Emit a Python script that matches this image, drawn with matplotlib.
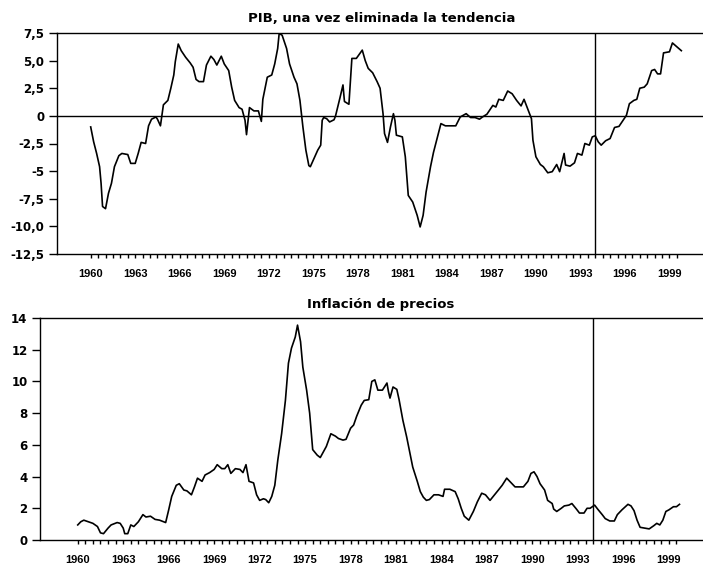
import matplotlib
matplotlib.use("Agg")
import matplotlib.pyplot as plt
from matplotlib.ticker import FixedLocator, FixedFormatter

# Detrended GDP
gdp_years = [1960.0, 1960.2, 1960.4, 1960.6, 1960.7, 1960.8, 1961.0, 1961.2, 1961.4, 1961.6,
             1961.9, 1962.1, 1962.5, 1962.7, 1963.0, 1963.2, 1963.4, 1963.7, 1963.9, 1964.1,
             1964.4, 1964.5, 1964.7, 1964.9, 1965.2, 1965.4, 1965.6, 1965.7, 1965.9, 1966.1,
             1966.4, 1966.7, 1966.9, 1967.1, 1967.3, 1967.6, 1967.8, 1968.1, 1968.3, 1968.5,
             1968.8, 1969.0, 1969.3, 1969.5, 1969.7, 1970.0, 1970.2, 1970.4, 1970.5, 1970.7,
             1971.0, 1971.3, 1971.5, 1971.6, 1971.9, 1972.2, 1972.4, 1972.6, 1972.7, 1972.9,
             1973.2, 1973.4, 1973.7, 1973.9, 1974.1, 1974.3, 1974.5, 1974.7, 1974.8, 1975.1,
             1975.3, 1975.5, 1975.6, 1975.7, 1975.9, 1976.1, 1976.4, 1976.5, 1976.8, 1977.0,
             1977.1, 1977.4, 1977.5, 1977.6, 1977.9, 1978.3, 1978.5, 1978.7, 1979.0, 1979.3,
             1979.5, 1979.7, 1979.8, 1980.0, 1980.2, 1980.4, 1980.5, 1980.6, 1981.0, 1981.2,
             1981.4, 1981.7, 1982.0, 1982.2, 1982.4, 1982.6, 1982.9, 1983.1, 1983.4, 1983.6,
             1983.9, 1984.2, 1984.6, 1984.9, 1985.3, 1985.6, 1985.9, 1986.2, 1986.4, 1986.7,
             1986.9, 1987.1, 1987.3, 1987.5, 1987.8, 1988.1, 1988.4, 1988.7, 1989.0, 1989.2,
             1989.4, 1989.7, 1989.8, 1990.0, 1990.3, 1990.5, 1990.8, 1991.1, 1991.4, 1991.6,
             1991.9, 1992.0, 1992.3, 1992.6, 1992.8, 1993.1, 1993.3, 1993.6, 1993.8, 1994.0,
             1994.2, 1994.4, 1994.7, 1995.0, 1995.3, 1995.6, 1995.9, 1996.1, 1996.3, 1996.6,
             1996.8, 1997.0, 1997.3, 1997.5, 1997.8, 1998.0, 1998.2, 1998.4, 1998.6, 1999.0,
             1999.2, 1999.5, 1999.8]
gdp_values = [-1.0, -2.35, -3.4, -4.6, -6.1, -8.2, -8.4, -7.0, -6.1, -4.6,
              -3.6, -3.4, -3.5, -4.3, -4.3, -3.4, -2.4, -2.5, -0.9, -0.3,
              -0.1, -0.3, -0.9, 1.0, 1.4, 2.5, 3.7, 4.9, 6.5, 5.9,
              5.3, 4.8, 4.4, 3.3, 3.1, 3.1, 4.6, 5.4, 5.1, 4.6,
              5.4, 4.7, 4.1, 2.6, 1.4, 0.75, 0.6, -0.4, -1.7, 0.75,
              0.45, 0.45, -0.5, 1.5, 3.5, 3.7, 4.7, 6.1, 7.45, 7.3,
              6.1, 4.7, 3.5, 2.9, 1.4, -1.0, -3.1, -4.5, -4.6, -3.7,
              -3.1, -2.65, -0.4, -0.15, -0.25, -0.55, -0.35, 0.0, 1.65, 2.8,
              1.3, 1.05, 3.2, 5.2, 5.2, 5.95, 5.0, 4.3, 3.9, 3.1,
              2.5, 0.2, -1.6, -2.4, -1.0, 0.2, -0.4, -1.75, -1.9, -3.7,
              -7.2, -7.8, -9.0, -10.05, -9.0, -6.9, -4.6, -3.3, -1.75, -0.7,
              -0.9, -0.9, -0.9, -0.1, 0.2, -0.15, -0.15, -0.3, -0.1, 0.15,
              0.55, 0.95, 0.8, 1.5, 1.4, 2.25, 2.0, 1.4, 0.9, 1.5,
              0.8, -0.25, -2.2, -3.7, -4.4, -4.6, -5.15, -5.05, -4.4, -5.05,
              -3.4, -4.45, -4.55, -4.25, -3.4, -3.55, -2.5, -2.65, -1.9, -1.8,
              -2.35, -2.65, -2.25, -2.05, -1.05, -0.95, -0.35, 0.05, 1.1, 1.4,
              1.5, 2.5, 2.6, 2.9, 4.1, 4.2, 3.8, 3.8, 5.7, 5.8,
              6.6, 6.25, 5.9]

# Price inflation
inf_years = [1960.0, 1960.2, 1960.4, 1960.7, 1961.0, 1961.3, 1961.5, 1961.7, 1962.0, 1962.2,
             1962.6, 1962.8, 1963.0, 1963.1, 1963.3, 1963.5, 1963.7, 1964.0, 1964.3, 1964.5,
             1964.8, 1965.1, 1965.4, 1965.8, 1966.0, 1966.2, 1966.5, 1966.7, 1967.0, 1967.2,
             1967.5, 1967.7, 1967.9, 1968.2, 1968.4, 1968.7, 1969.0, 1969.2, 1969.5, 1969.7,
             1969.9, 1970.1, 1970.4, 1970.7, 1970.9, 1971.1, 1971.3, 1971.6, 1971.8, 1972.0,
             1972.25, 1972.4, 1972.6, 1972.8, 1973.0, 1973.2, 1973.45, 1973.7, 1973.9, 1974.1,
             1974.35, 1974.5, 1974.7, 1974.85, 1975.1, 1975.3, 1975.5, 1975.8, 1976.0, 1976.2,
             1976.4, 1976.7, 1977.0, 1977.2, 1977.5, 1977.7, 1978.0, 1978.2, 1978.4, 1978.7,
             1978.9, 1979.2, 1979.4, 1979.6, 1979.8, 1980.1, 1980.4, 1980.5, 1980.6, 1980.8,
             1981.05, 1981.2, 1981.45, 1981.7, 1981.9, 1982.1, 1982.4, 1982.6, 1982.8, 1983.0,
             1983.2, 1983.5, 1983.8, 1984.1, 1984.2, 1984.55, 1984.9, 1985.1, 1985.3, 1985.5,
             1985.8, 1986.1, 1986.36, 1986.65, 1986.9, 1987.2, 1987.5, 1987.75, 1988.0, 1988.3,
             1988.6, 1988.85, 1989.1, 1989.4, 1989.7, 1989.9, 1990.1, 1990.3, 1990.5, 1990.8,
             1991.0, 1991.3, 1991.4, 1991.6, 1991.9, 1992.1, 1992.4, 1992.6, 1992.9, 1993.1,
             1993.4, 1993.6, 1993.8, 1994.1, 1994.3, 1994.6, 1994.8, 1995.1, 1995.4, 1995.6,
             1995.9, 1996.3, 1996.5, 1996.7, 1996.9, 1997.1, 1997.4, 1997.7, 1998.0, 1998.2,
             1998.4, 1998.6, 1998.8, 1999.0, 1999.3, 1999.5, 1999.7]
inf_values = [0.95, 1.15, 1.25, 1.15, 1.05, 0.85, 0.45, 0.4, 0.75, 0.95,
              1.1, 1.05, 0.75, 0.4, 0.4, 0.95, 0.85, 1.15, 1.6, 1.45,
              1.5, 1.3, 1.25, 1.1, 1.9, 2.75, 3.45, 3.55, 3.15, 3.1,
              2.85, 3.35, 3.9, 3.7, 4.1, 4.25, 4.45, 4.75, 4.5, 4.5,
              4.75, 4.2, 4.5, 4.45, 4.25, 4.75, 3.7, 3.6, 2.85, 2.5,
              2.6, 2.55, 2.35, 2.75, 3.45, 5.05, 6.7, 8.8, 11.15, 12.1,
              12.8, 13.55, 12.5, 10.9, 9.45, 8.0, 5.7, 5.35, 5.2, 5.55,
              5.9, 6.7, 6.55, 6.4, 6.3, 6.35, 7.05, 7.25, 7.8, 8.5,
              8.8, 8.85, 10.0, 10.1, 9.45, 9.45, 9.9, 9.35, 8.95, 9.65,
              9.5, 8.85, 7.55, 6.5, 5.55, 4.6, 3.7, 3.05, 2.7, 2.5,
              2.55, 2.85, 2.85, 2.75, 3.2, 3.2, 3.05, 2.6, 2.0, 1.5,
              1.25, 1.8, 2.4, 2.95, 2.85, 2.5, 2.85, 3.15, 3.45, 3.9,
              3.6, 3.35, 3.35, 3.35, 3.7, 4.2, 4.3, 4.0, 3.55, 3.15,
              2.5, 2.3, 1.95, 1.8, 2.0, 2.15, 2.2, 2.3, 1.95, 1.7,
              1.7, 2.0, 2.0, 2.2, 1.95, 1.6, 1.35, 1.2, 1.2, 1.6,
              1.9, 2.25, 2.15, 1.85, 1.25, 0.8, 0.75, 0.7, 0.9, 1.05,
              0.95, 1.25, 1.8, 1.9, 2.1, 2.1, 2.25]

gdp_ticks = [7.5, 5.0, 2.5, 0.0, -2.5, -5.0, -7.5, -10.0, -12.5]
gdp_ticklabels = ["7,5", "5,0", "2,5", "0", "-2,5", "-5", "-7,5", "-10,0", "-12,5"]
inf_ticks = [0, 2, 4, 6, 8, 10, 12, 14]
inf_ticklabels = ["0", "2", "4", "6", "8", "10", "12", "14"]
year_labels = list(range(1960, 2000, 3))
marker_year = 1994.0

titles = ["PIB, una vez eliminada la tendencia", "Inflación de precios"]

fig = plt.figure(figsize=(7.03, 5.71), dpi=100)
ax1 = fig.add_axes([57 / 703, 1 - 254 / 571, 646 / 703, 221 / 571])
ax2 = fig.add_axes([40 / 703, 1 - 540 / 571, 663 / 703, 222 / 571])

def style_axis(ax, xlim, ylim, yticks, ylabels):
    ax.set_xlim(*xlim)
    ax.set_ylim(*ylim)
    for side in ["top", "left", "bottom"]:
        ax.spines[side].set_linewidth(1.0)
    ax.spines["right"].set_visible(False)
    ax.yaxis.set_major_locator(FixedLocator(yticks))
    ax.yaxis.set_major_formatter(FixedFormatter(ylabels))
    ax.xaxis.set_major_locator(FixedLocator(year_labels))
    ax.xaxis.set_major_formatter(FixedFormatter([str(y) for y in year_labels]))
    # half-year ticks
    ax.xaxis.set_minor_locator(FixedLocator([1960 + 0.5 * i for i in range(80)]))
    ax.tick_params(axis="y", direction="out", length=6, width=1.0, pad=3)
    ax.tick_params(axis="x", which="both", direction="out", length=3, width=1.0, pad=8)
    for lab in ax.get_yticklabels():
        lab.set_fontfamily("DejaVu Sans")
        lab.set_fontweight("bold")
        lab.set_fontsize(8.5)
    for lab in ax.get_xticklabels():
        lab.set_fontfamily("Liberation Sans")
        lab.set_fontweight("bold")
        lab.set_fontsize(8)

style_axis(ax1, (1957.73, 2001.26), (-12.5, 7.5), gdp_ticks, gdp_ticklabels)
style_axis(ax2, (1957.51, 2001.25), (0, 14), inf_ticks, inf_ticklabels)

ax1.axhline(0, color="black", lw=1.0)
ax1.axvline(marker_year, color="black", lw=1.0)
ax1.plot(gdp_years, gdp_values, color="black", lw=1.2)

ax2.axvline(marker_year, color="black", lw=1.0)
ax2.plot(inf_years, inf_values, color="black", lw=1.2)

fig.text(382 / 703, 1 - 22 / 571, titles[0], ha="center", va="baseline",
         fontsize=9.5, fontweight="bold", family="DejaVu Sans")
fig.text(381 / 703, 1 - 308 / 571, titles[1], ha="center", va="baseline",
         fontsize=9.5, fontweight="bold", family="DejaVu Sans")

fig.savefig("out.png", dpi=100)
